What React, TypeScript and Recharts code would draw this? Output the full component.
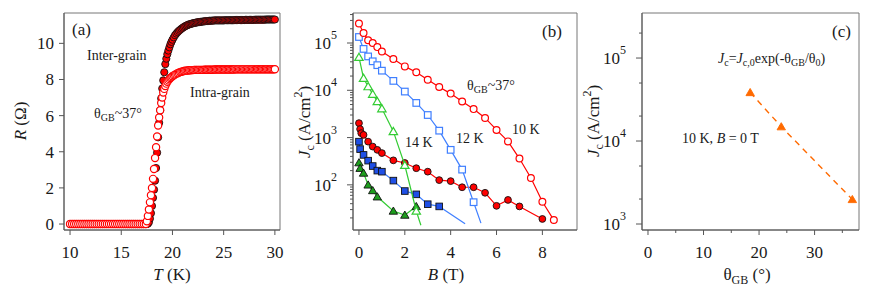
import React from "react";
import { ScatterChart, Scatter, XAxis, YAxis, ReferenceArea } from "recharts";

const FONT = '"Liberation Serif", "Times New Roman", serif';
const AXIS = "#555";
const FRAME = "#777";
const INK = "#1a1a1a";
const RED = "#ff0000";
const BLUE_OPEN = "#3f7fff";
const BLUE_FILL = "#1f4fe6";
const GREEN = "#33cc33";
const GREEN_FILL = "#1d9e1d";
const ORANGE = "#ff6a00";

// ---- (a) R vs T ----
const tLow = [
  10, 10.2, 10.4, 10.6, 10.8, 11, 11.2, 11.4, 11.6, 11.8, 12, 12.2, 12.4, 12.6, 12.8, 13, 13.2, 13.4, 13.6,
  13.8, 14, 14.2, 14.4, 14.6, 14.8, 15, 15.2, 15.4, 15.6, 15.8, 16, 16.2, 16.4, 16.6, 16.8, 17, 17.2, 17.4,
];
const tMid = [
  17.5, 17.6, 17.7, 17.8, 17.9, 18.0, 18.1, 18.2, 18.3, 18.4, 18.5, 18.6, 18.7, 18.8, 18.9,
  19.0, 19.1, 19.2, 19.3, 19.4, 19.5, 19.6, 19.7, 19.8, 19.9, 20.0,
];
const tHigh = [
  20.125, 20.25, 20.375, 20.5, 20.625, 20.75, 20.875, 21, 21.125, 21.25, 21.375, 21.5, 21.625, 21.75, 21.875, 22,
  22.125, 22.25, 22.375, 22.5, 22.625, 22.75, 22.875, 23, 23.125, 23.25, 23.375, 23.5, 23.625, 23.75, 23.875, 24,
  24.125, 24.25, 24.375, 24.5, 24.625, 24.75, 24.875, 25, 25.125, 25.25, 25.375, 25.5, 25.625, 25.75, 25.875, 26,
  26.125, 26.25, 26.375, 26.5, 26.625, 26.75, 26.875, 27, 27.125, 27.25, 27.375, 27.5, 27.625, 27.75, 27.875, 28,
  28.125, 28.25, 28.375, 28.5, 28.625, 28.75, 28.875, 29, 29.125, 29.25, 29.375, 29.5, 29.625, 29.75, 29.875, 30,
];
const rLowBoth = [
  0, 0, 0, 0, 0, 0, 0, 0, 0, 0, 0, 0, 0, 0, 0, 0, 0, 0, 0,
  0, 0, 0, 0, 0, 0, 0, 0, 0, 0, 0, 0, 0, 0, 0, 0, 0, 0, 0,
];
const rInterMid = [
  0, 0.02, 0.1, 0.3, 0.6, 1.0, 1.45, 1.9, 2.4, 3.1, 3.95, 4.8, 5.6, 6.3, 6.95,
  7.5, 7.95, 8.4, 8.85, 9.15, 9.4, 9.6, 9.78, 9.95, 10.08, 10.2,
];
const rInterHigh = [
  10.33, 10.45, 10.54, 10.62, 10.69, 10.75, 10.81, 10.86, 10.91, 10.95, 10.99, 11.02, 11.05, 11.07, 11.09, 11.11,
  11.13, 11.14, 11.16, 11.17, 11.18, 11.19, 11.2, 11.21, 11.22, 11.23, 11.23, 11.24, 11.25, 11.25, 11.26, 11.26,
  11.27, 11.27, 11.27, 11.27, 11.27, 11.27, 11.27, 11.27, 11.28, 11.28, 11.28, 11.28, 11.28, 11.28, 11.28, 11.28,
  11.29, 11.29, 11.29, 11.29, 11.29, 11.29, 11.29, 11.29, 11.3, 11.3, 11.3, 11.3, 11.3, 11.3, 11.3, 11.3,
  11.31, 11.31, 11.31, 11.31, 11.31, 11.31, 11.31, 11.31, 11.32, 11.32, 11.32, 11.32, 11.32, 11.32, 11.32, 11.32,
];
const rIntraMid = [
  0.15, 0.45, 0.8, 1.2, 1.6, 2.0, 2.5, 3.05, 3.65, 4.25, 4.85, 5.45, 5.9, 6.3, 6.7,
  7.0, 7.28, 7.48, 7.64, 7.77, 7.87, 7.95, 8.02, 8.08, 8.13, 8.18,
];
const rIntraHigh = [
  8.23, 8.27, 8.31, 8.35, 8.38, 8.41, 8.43, 8.45, 8.47, 8.48, 8.49, 8.5, 8.51, 8.51, 8.52, 8.52,
  8.53, 8.53, 8.53, 8.53, 8.53, 8.53, 8.53, 8.53, 8.54, 8.54, 8.54, 8.54, 8.54, 8.54, 8.54, 8.54,
  8.55, 8.55, 8.55, 8.55, 8.55, 8.55, 8.55, 8.55, 8.55, 8.55, 8.55, 8.55, 8.55, 8.55, 8.55, 8.55,
  8.56, 8.56, 8.56, 8.56, 8.56, 8.56, 8.56, 8.56, 8.56, 8.56, 8.56, 8.56, 8.56, 8.56, 8.56, 8.56,
  8.57, 8.57, 8.57, 8.57, 8.57, 8.57, 8.57, 8.57, 8.57, 8.57, 8.57, 8.57, 8.57, 8.57, 8.57, 8.57,
];
const tempK = [...tLow, ...tMid, ...tHigh];
const rInter = [...rLowBoth, ...rInterMid, ...rInterHigh];
const rIntra = [...rLowBoth, ...rIntraMid, ...rIntraHigh];
const tTicks = [10, 15, 20, 25, 30];
const rTicks = [0, 2, 4, 6, 8, 10];

// ---- (b) Jc vs B ----
const b10Open = [0, 0.2, 0.4, 0.6, 0.8, 1, 1.5, 2, 2.5, 3, 3.5, 4, 4.5, 5, 5.5, 6, 6.5, 7, 7.5, 8, 8.5];
const j10Open = [2.58e5, 1.63e5, 1.14e5, 1.0e5, 8.2e4, 6.6e4, 4.6e4, 3.2e4, 2.4e4, 1.67e4, 1.17e4, 8.5e3, 5.8e3, 4.0e3, 2.6e3, 1.45e3, 8.3e2, 3.6e2, 1.4e2, 44, 18];
const b12Open = [0, 0.2, 0.4, 0.6, 0.8, 1, 1.5, 2, 2.5, 3, 3.5, 4, 4.5, 5];
const j12Open = [1.34e5, 7.5e4, 5.2e4, 4.1e4, 3.4e4, 2.6e4, 1.58e4, 9.4e3, 5.4e3, 3.0e3, 1.4e3, 5.5e2, 2.1e2, 43];
const b14Open = [0, 0.2, 0.4, 0.6, 0.8, 1, 1.5, 2, 2.5];
const j14Open = [5.0e4, 1.8e4, 1.2e4, 8.3e3, 5.8e3, 4.1e3, 1.35e3, 2.6e2, 28];
const b10Fill = [0, 0.05, 0.1, 0.2, 0.4, 0.6, 0.8, 1, 1.5, 2, 2.5, 3, 3.5, 4, 4.5, 5, 5.5, 6, 6.5, 7, 8];
const j10Fill = [2020, 1510, 1240, 1140, 820, 645, 550, 470, 330, 290, 225, 190, 126, 120, 89, 89, 68, 36, 48, 35, 19];
const b12Fill = [0, 0.05, 0.2, 0.4, 0.6, 0.8, 1, 1.5, 2, 2.5, 3, 3.5];
const j12Fill = [820, 570, 430, 325, 250, 200, 190, 123, 74, 63, 39, 35];
const b14Fill = [0, 0.05, 0.2, 0.4, 0.6, 0.8, 1.5, 2, 2.5];
const j14Fill = [295, 225, 178, 100, 76, 56, 28, 23, 35];
// straight extensions drawn past the last points
const tail12Open = [[5, 43], [5.32, 15.5]];
const tail14Open = [[2.5, 28], [2.7, 14]];
const tail12Fill = [[3.5, 35], [4.63, 15]];
const bTicks = [0, 2, 4, 6, 8];
const jTicksB = [
  20, 30, 40, 50, 60, 70, 80, 90, 100, 200, 300, 400, 500, 600, 700, 800, 900,
  1000, 2000, 3000, 4000, 5000, 6000, 7000, 8000, 9000,
  10000, 20000, 30000, 40000, 50000, 60000, 70000, 80000, 90000,
  100000, 200000, 300000, 400000,
];

// ---- (c) Jc vs theta ----
const thetaGB = [18.4, 24.0, 36.8];
const jcTheta = [3.85e4, 1.49e4, 1.98e3];
const thetaTicks = [0, 5, 10, 15, 20, 25, 30, 35];
const jTicksC = [1000, 2000, 5000, 10000, 20000, 50000, 100000, 200000];

const zip = (xs: number[], ys: number[], kx: string, ky: string) =>
  xs.map((v, i) => ({ [kx]: v, [ky]: ys[i] }));
const pairs = (p: number[][]) => p.map(([b, j]) => ({ b, j }));

// ---- marker shapes ----
const OpenCircle = (color: string, r: number) => (p: any) =>
  <circle cx={p.cx} cy={p.cy} r={r} fill="#fff" stroke={color} strokeWidth={1.2} />;
const FilledCircle = (color: string, r: number) => (p: any) =>
  <circle cx={p.cx} cy={p.cy} r={r} fill={color} stroke="#111" strokeWidth={0.9} />;
const OpenSquare = (color: string) => (p: any) =>
  <rect x={p.cx - 3.3} y={p.cy - 3.3} width={6.6} height={6.6} fill="#fff" stroke={color} strokeWidth={1.2} />;
const FilledSquare = (color: string) => (p: any) =>
  <rect x={p.cx - 3.3} y={p.cy - 3.3} width={6.6} height={6.6} fill={color} stroke="#111" strokeWidth={0.9} />;
const triPts = (cx: number, cy: number, s: number) =>
  `${cx},${cy - s} ${cx - s * 1.05},${cy + s * 0.8} ${cx + s * 1.05},${cy + s * 0.8}`;
const OpenTri = (color: string) => (p: any) =>
  <polygon points={triPts(p.cx, p.cy, 4)} fill="#fff" stroke={color} strokeWidth={1.2} />;
const FilledTri = (color: string, edge: string) => (p: any) =>
  <polygon points={triPts(p.cx, p.cy, 4)} fill={color} stroke={edge} strokeWidth={0.9} />;
const NoMark = () => <g />;

// ---- ticks ----
const tickText = { fontFamily: FONT, fontSize: 17, fill: INK };

const BottomTick = (labelEvery: number) => (p: any) => {
  const v = p.payload.value;
  const major = Math.abs(v / labelEvery - Math.round(v / labelEvery)) < 1e-6;
  return (
    <g>
      <line x1={p.x} x2={p.x} y1={p.y} y2={p.y + (major ? 5 : 3)} stroke={AXIS} />
      {major && (
        <text x={p.x} y={p.y + 28} textAnchor="middle" {...tickText}>{v}</text>
      )}
    </g>
  );
};

const LeftLinTick = (p: any) => (
  <g>
    <line x1={p.x - 5} x2={p.x} y1={p.y} y2={p.y} stroke={AXIS} />
    <text x={p.x - 10} y={p.y + 6} textAnchor="end" {...tickText}>{p.payload.value}</text>
  </g>
);

const LeftLogTick = (p: any) => {
  const e = Math.log10(p.payload.value);
  const major = Math.abs(e - Math.round(e)) < 1e-6;
  return (
    <g>
      <line x1={p.x - (major ? 6 : 3)} x2={p.x} y1={p.y} y2={p.y} stroke={AXIS} />
      {major && (
        <text x={p.x - 16} y={p.y + 6} textAnchor="end" {...tickText}>
          10<tspan dy={-10} fontSize={12}>{Math.round(e)}</tspan>
        </text>
      )}
    </g>
  );
};

const H = 294;
const PLOT_BOTTOM = 230;

function PanelA() {
  const inter = zip(tempK, rInter, "t", "r");
  const intra = zip(tempK, rIntra, "t", "r");
  const xd: [number, number] = [9.41, 30.5];
  const yd: [number, number] = [-0.33, 11.68];
  return (
    <ScatterChart width={290} height={H} margin={{ top: 13, right: 10, bottom: 0, left: 0 }}>
      <XAxis dataKey="t" type="number" domain={xd} allowDataOverflow ticks={tTicks} interval={0}
        tick={BottomTick(5)} tickLine={false} tickSize={0} tickMargin={0} height={H - PLOT_BOTTOM} stroke={AXIS} />
      <YAxis dataKey="r" type="number" domain={yd} allowDataOverflow ticks={rTicks} interval={0}
        tick={LeftLinTick} tickLine={false} tickSize={0} tickMargin={0} width={64} stroke={AXIS} />
      <ReferenceArea x1={xd[0]} x2={xd[1]} y1={yd[0]} y2={yd[1]} fill="none" stroke={FRAME} strokeWidth={1} />
      <Scatter data={inter} shape={FilledCircle(RED, 3.6)} isAnimationActive={false} />
      <Scatter data={intra} shape={OpenCircle(RED, 3.6)} isAnimationActive={false} />
    </ScatterChart>
  );
}

function PanelB() {
  const xd: [number, number] = [-0.26, 9.51];
  const yd: [number, number] = [11.1, 431000];
  const ln = (c: string) => ({ stroke: c, strokeWidth: 1.2 });
  return (
    <ScatterChart width={290} height={H} margin={{ top: 13, right: 3, bottom: 0, left: 0 }}>
      <XAxis dataKey="b" type="number" domain={xd} allowDataOverflow ticks={bTicks} interval={0}
        tick={BottomTick(2)} tickLine={false} tickSize={0} tickMargin={0} height={H - PLOT_BOTTOM} stroke={AXIS} />
      <YAxis dataKey="j" type="number" scale="log" domain={yd} allowDataOverflow ticks={jTicksB} interval={0}
        tick={LeftLogTick} tickLine={false} tickSize={0} tickMargin={0} width={63} stroke={AXIS} />
      <ReferenceArea x1={xd[0]} x2={xd[1]} y1={yd[0]} y2={yd[1]} fill="none" stroke={FRAME} strokeWidth={1} />
      <Scatter data={pairs(tail14Open)} line={ln(GREEN)} shape={NoMark} isAnimationActive={false} />
      <Scatter data={pairs(tail12Open)} line={ln(BLUE_OPEN)} shape={NoMark} isAnimationActive={false} />
      <Scatter data={pairs(tail12Fill)} line={ln(BLUE_OPEN)} shape={NoMark} isAnimationActive={false} />
      <Scatter data={zip(b14Fill, j14Fill, "b", "j")} line={ln(GREEN)} shape={FilledTri(GREEN_FILL, "#111")} isAnimationActive={false} />
      <Scatter data={zip(b12Fill, j12Fill, "b", "j")} line={ln(BLUE_OPEN)} shape={FilledSquare(BLUE_FILL)} isAnimationActive={false} />
      <Scatter data={zip(b10Fill, j10Fill, "b", "j")} line={ln(RED)} shape={FilledCircle(RED, 3.4)} isAnimationActive={false} />
      <Scatter data={zip(b14Open, j14Open, "b", "j")} line={ln(GREEN)} shape={OpenTri(GREEN)} isAnimationActive={false} />
      <Scatter data={zip(b12Open, j12Open, "b", "j")} line={ln(BLUE_OPEN)} shape={OpenSquare(BLUE_OPEN)} isAnimationActive={false} />
      <Scatter data={zip(b10Open, j10Open, "b", "j")} line={ln(RED)} shape={OpenCircle(RED, 3.4)} isAnimationActive={false} />
    </ScatterChart>
  );
}

function PanelC() {
  const xd: [number, number] = [-1.08, 38];
  const yd: [number, number] = [847, 349000];
  return (
    <ScatterChart width={292} height={H} margin={{ top: 13, right: 13, bottom: 0, left: 0 }}>
      <XAxis dataKey="th" type="number" domain={xd} allowDataOverflow ticks={thetaTicks} interval={0}
        tick={BottomTick(10)} tickLine={false} tickSize={0} tickMargin={0} height={H - PLOT_BOTTOM} stroke={AXIS} />
      <YAxis dataKey="j" type="number" scale="log" domain={yd} allowDataOverflow ticks={jTicksC} interval={0}
        tick={LeftLogTick} tickLine={false} tickSize={0} tickMargin={0} width={62} stroke={AXIS} />
      <ReferenceArea x1={xd[0]} x2={xd[1]} y1={yd[0]} y2={yd[1]} fill="none" stroke={FRAME} strokeWidth={1} />
      <Scatter data={zip(thetaGB, jcTheta, "th", "j")}
        line={{ stroke: ORANGE, strokeWidth: 1.4, strokeDasharray: "6 5" }}
        shape={FilledTri(ORANGE, ORANGE)} isAnimationActive={false} />
    </ScatterChart>
  );
}

const sub = { fontSize: 10 };

function Overlay() {
  const t = { fontFamily: FONT, fill: INK };
  return (
    <svg width={872} height={H} style={{ position: "absolute", left: 0, top: 0, pointerEvents: "none" }}>
      {/* axis titles */}
      <text transform="translate(26,121) rotate(-90)" textAnchor="middle" fontSize={17} {...t}>
        <tspan fontStyle="italic">R</tspan> (Ω)
      </text>
      <text x={172} y={280} textAnchor="middle" fontSize={17} {...t}>
        <tspan fontStyle="italic">T</tspan> (K)
      </text>
      <text transform="translate(310,122) rotate(-90)" textAnchor="middle" fontSize={17} {...t}>
        <tspan fontStyle="italic">J</tspan><tspan dy={4} fontSize={12}>c</tspan><tspan dy={-4}> (A/cm</tspan>
        <tspan dy={-8} fontSize={12}>2</tspan><tspan dy={8}>)</tspan>
      </text>
      <text x={446} y={280} textAnchor="middle" fontSize={17} {...t}>
        <tspan fontStyle="italic">B</tspan> (T)
      </text>
      <text transform="translate(599,121) rotate(-90)" textAnchor="middle" fontSize={17} {...t}>
        <tspan fontStyle="italic">J</tspan><tspan dy={4} fontSize={12}>c</tspan><tspan dy={-4}> (A/cm</tspan>
        <tspan dy={-8} fontSize={12}>2</tspan><tspan dy={8}>)</tspan>
      </text>
      <text x={747} y={280} textAnchor="middle" fontSize={17} {...t}>
        θ<tspan dy={4} fontSize={12}>GB</tspan><tspan dy={-4}> (°)</tspan>
      </text>

      {/* panel letters */}
      <text x={72} y={35} fontSize={17} {...t}>(a)</text>
      <text x={542} y={37} fontSize={17} {...t}>(b)</text>
      <text x={832} y={37} fontSize={17} {...t}>(c)</text>

      {/* (a) notes */}
      <text x={87} y={60} fontSize={14} {...t}>Inter-grain</text>
      <text x={190} y={97} fontSize={14} {...t}>Intra-grain</text>
      <text x={94} y={118} fontSize={14} {...t}>
        θ<tspan dy={3} {...sub}>GB</tspan><tspan dy={-3}>~37°</tspan>
      </text>

      {/* (b) notes */}
      <text x={467} y={90} fontSize={14} {...t}>
        θ<tspan dy={3} {...sub}>GB</tspan><tspan dy={-3}>~37°</tspan>
      </text>
      <text x={512} y={134} fontSize={14} {...t}>10 K</text>
      <text x={456} y={143} fontSize={14} {...t}>12 K</text>
      <text x={405} y={147} fontSize={14} {...t}>14 K</text>

      {/* (c) notes */}
      <text x={718} y={63} fontSize={14} {...t}>
        <tspan fontStyle="italic">J</tspan><tspan dy={3} {...sub}>c</tspan><tspan dy={-3}>=</tspan>
        <tspan fontStyle="italic">J</tspan><tspan dy={3} {...sub}>c,0</tspan><tspan dy={-3}>exp(-θ</tspan>
        <tspan dy={3} {...sub}>GB</tspan><tspan dy={-3}>/θ</tspan><tspan dy={3} {...sub}>0</tspan>
        <tspan dy={-3}>)</tspan>
      </text>
      <text x={682} y={143} fontSize={14} {...t}>
        10 K, <tspan fontStyle="italic">B</tspan> = 0 T
      </text>
    </svg>
  );
}

export default function App() {
  return (
    <div style={{ position: "absolute", left: 0, top: 0, width: 872, height: H, background: "#fff" }}>
      <div style={{ position: "absolute", left: 0, top: 0 }}><PanelA /></div>
      <div style={{ position: "absolute", left: 290, top: 0 }}><PanelB /></div>
      <div style={{ position: "absolute", left: 580, top: 0 }}><PanelC /></div>
      <Overlay />
    </div>
  );
}
